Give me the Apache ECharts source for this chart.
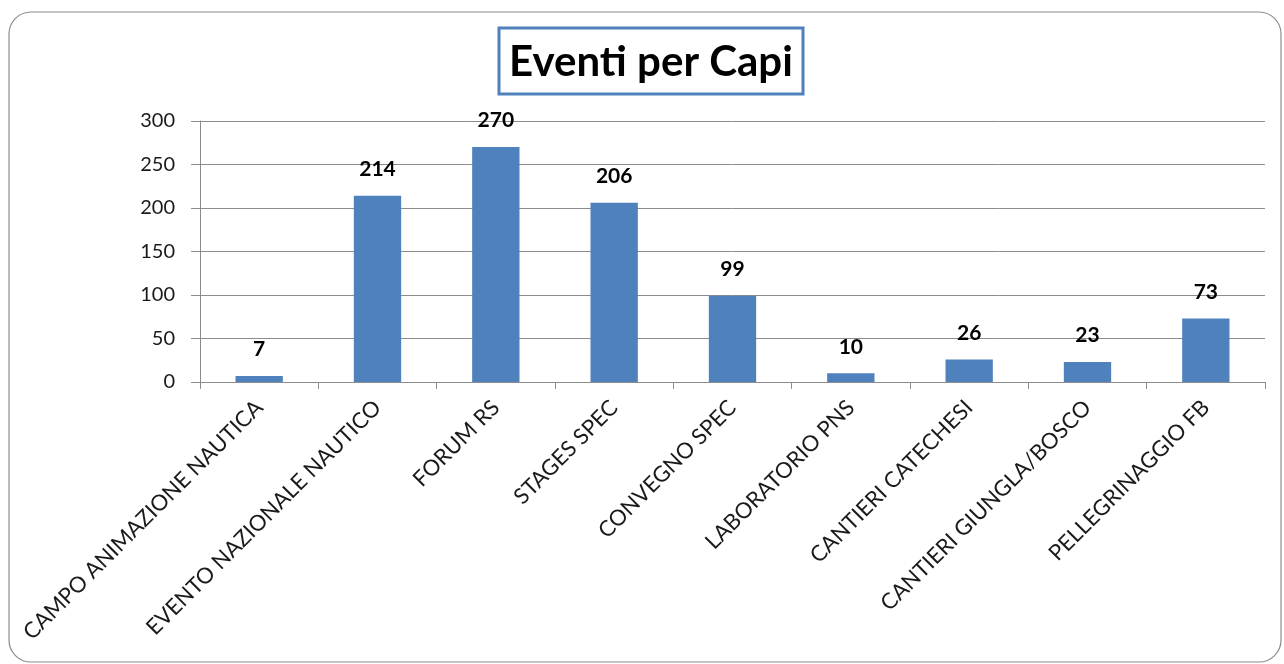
<!DOCTYPE html>
<html>
<head>
<meta charset="utf-8">
<script src="https://cdn.jsdelivr.net/npm/echarts@6/dist/echarts.min.js"></script>
<style>html,body{margin:0;padding:0;background:#fff;}#c{width:1284px;height:664px;}</style>
</head>
<body>
<div id="c"></div>
<script>
const categories = ["CAMPO ANIMAZIONE NAUTICA","EVENTO NAZIONALE NAUTICO","FORUM RS","STAGES SPEC","CONVEGNO SPEC","LABORATORIO PNS","CANTIERI CATECHESI","CANTIERI GIUNGLA/BOSCO","PELLEGRINAGGIO FB"];
const values = [7, 214, 270, 206, 99, 10, 26, 23, 73];
const yTicks = [0, 50, 100, 150, 200, 250, 300];
const titleText = "Eventi per Capi";

const FONT = 'Lato, "Open Sans", sans-serif';
const chart = echarts.init(document.getElementById('c'), null, {renderer: 'canvas'});
chart.setOption({
  animation: false,
  backgroundColor: '#fff',
  graphic: [
    {type: 'rect', shape: {x: 9, y: 12, width: 1272, height: 650, r: 22}, style: {fill: 'none', stroke: '#8c8c8c', lineWidth: 1.2}, z: 0},
    {type: 'rect', shape: {x: 499, y: 28, width: 304, height: 66}, style: {fill: '#fff', stroke: '#4F81BD', lineWidth: 3}, z: 1},
    {type: 'text', x: 651, y: 62, style: {text: titleText, fill: '#000', font: 'bold 42px ' + FONT, textAlign: 'center', textVerticalAlign: 'middle'}, z: 2}
  ],
  grid: {left: 200, right: 19, top: 121, bottom: 282, containLabel: false},
  xAxis: {
    type: 'category',
    data: categories,
    boundaryGap: true,
    axisLine: {show: true, lineStyle: {color: '#8c8c8c', width: 1}},
    axisTick: {show: true, length: 7, lineStyle: {color: '#8c8c8c'}, alignWithLabel: false},
    axisLabel: {rotate: 45, interval: 0, color: '#1a1a1a', fontSize: 22, fontFamily: FONT, margin: 22}
  },
  yAxis: {
    type: 'value',
    min: yTicks[0], max: yTicks[yTicks.length - 1], interval: 50,
    axisLine: {show: true, lineStyle: {color: '#8c8c8c'}},
    axisTick: {show: true, length: 9, lineStyle: {color: '#8c8c8c'}},
    axisLabel: {color: '#1a1a1a', fontSize: 20, fontFamily: FONT, margin: 25},
    splitLine: {lineStyle: {color: '#8c8c8c', width: 1}}
  },
  series: [{
    type: 'bar',
    data: values,
    barWidth: '40%',
    itemStyle: {color: '#4F81BD'},
    label: {show: true, position: 'top', distance: 16, color: '#000', fontWeight: 'bold', fontSize: 21, fontFamily: FONT}
  }]
});
</script>
</body>
</html>
